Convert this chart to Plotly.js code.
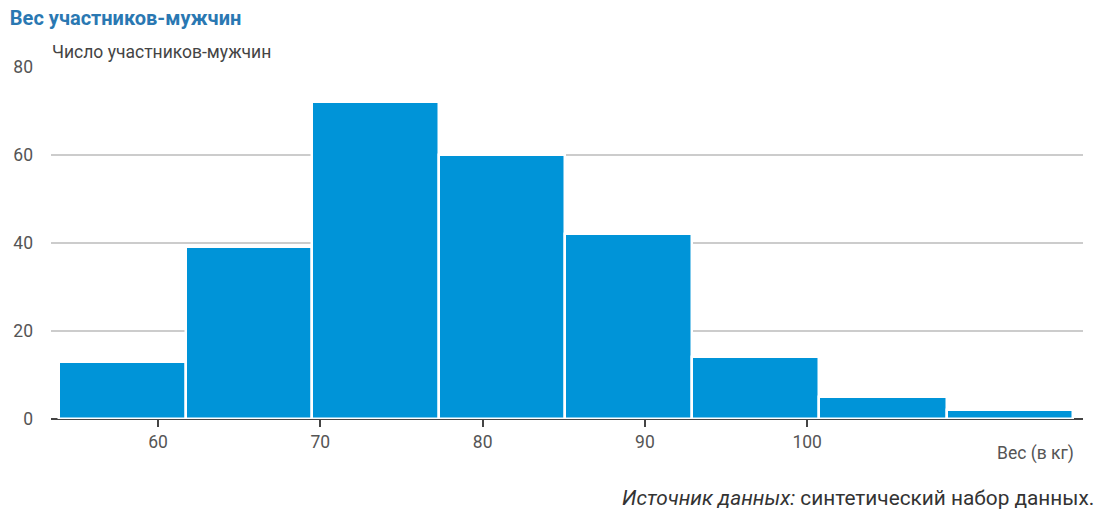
<!DOCTYPE html>
<html>
<head>
<meta charset="utf-8">
<script src="https://cdn.plot.ly/plotly-3.0.1.min.js"></script>
<style>html,body{margin:0;padding:0;background:#fff;}#chart{width:1096px;height:512px;}</style>
</head>
<body>
<div id="chart"></div>
<script>
// Data
const binEdges = [53.9, 61.7, 69.5, 77.3, 85.1, 92.9, 100.7, 108.6, 116.4];
const counts = [13, 39, 72, 60, 42, 14, 5, 2];
const xTicks = [60, 70, 80, 90, 100];
const yTicks = [0, 20, 40, 60, 80];
const chartTitle = 'Вес участников-мужчин';
const yTitle = 'Число участников-мужчин';
const xTitle = 'Вес (в кг)';
const sourceNote = '<i>Источник данных:</i> синтетический набор данных.';

const centers = counts.map((_, i) => (binEdges[i] + binEdges[i + 1]) / 2);
const widths = counts.map((_, i) => binEdges[i + 1] - binEdges[i]);

const FONT = 'Roboto, "Noto Sans", sans-serif';

const trace = {
  type: 'bar',
  x: centers,
  y: counts,
  width: widths,
  marker: { color: '#0094d8', line: { color: '#ffffff', width: 2.5 } },
  hoverinfo: 'x+y'
};

const layout = {
  width: 1096,
  height: 512,
  margin: { l: 51, r: 13, t: 67, b: 93 },
  paper_bgcolor: '#ffffff',
  plot_bgcolor: '#ffffff',
  showlegend: false,
  bargap: 0,
  font: { family: FONT, color: '#555555', size: 17 },
  title: {
    text: '<b>' + chartTitle + '</b>',
    x: 0.009, xanchor: 'left', xref: 'container',
    y: 0.965, yanchor: 'middle', yref: 'container',
    font: { family: FONT, size: 20, color: '#2a78b2' }
  },
  xaxis: {
    range: [53.4, 117],
    tickvals: xTicks,
    ticktext: xTicks.map(String),
    ticks: 'outside', ticklen: 7, tickwidth: 1.5, tickcolor: '#444444',
    showgrid: false, zeroline: false,
    showline: false,
    tickfont: { family: FONT, size: 17.5, color: '#555555' },
    fixedrange: true
  },
  yaxis: {
    range: [0, 80],
    tickvals: yTicks,
    ticktext: yTicks.map(String),
    showgrid: true, gridcolor: '#cccccc', gridwidth: 1.5,
    zeroline: true, zerolinecolor: '#444444', zerolinewidth: 1.5,
    showline: false, ticks: '',
    ticklabelstandoff: 17,
    tickfont: { family: FONT, size: 17.5, color: '#555555' },
    fixedrange: true
  },
  annotations: [
    {
      text: yTitle, xref: 'paper', yref: 'paper', x: 0, y: 1,
      xanchor: 'left', yanchor: 'middle', yshift: 15, xshift: -1, showarrow: false,
      font: { family: FONT, size: 17.5, color: '#444444' }
    },
    {
      text: xTitle, xref: 'paper', yref: 'paper', x: 0.99, y: 0,
      xanchor: 'right', yanchor: 'middle', yshift: -34, xshift: 3, showarrow: false,
      font: { family: FONT, size: 17.5, color: '#555555' }
    },
    {
      text: sourceNote, xref: 'paper', yref: 'paper', x: 1, y: 0,
      xanchor: 'right', yanchor: 'middle', yshift: -79, xshift: 13, showarrow: false,
      font: { family: FONT, size: 20.8, color: '#333333' }
    }
  ]
};

Plotly.newPlot('chart', [trace], layout, { displayModeBar: false, responsive: false });
</script>
</body>
</html>
